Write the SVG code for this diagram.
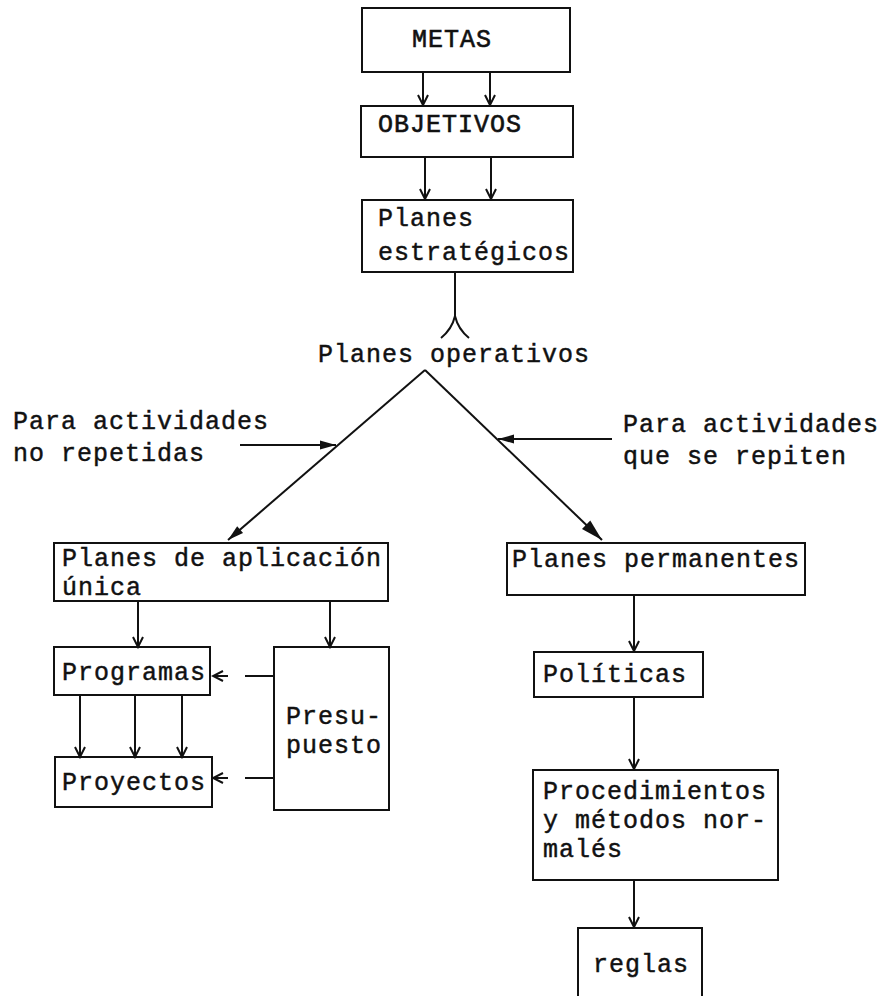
<svg xmlns="http://www.w3.org/2000/svg" width="886" height="996" viewBox="0 0 886 996">
  <style>
    .box { fill: none; stroke: #111; stroke-width: 2; }
    .ln { fill: none; stroke: #111; stroke-width: 2; }
    .t { font-family: "Liberation Mono", "DejaVu Sans Mono", monospace; font-size: 25px; letter-spacing: 1px; fill: #111; stroke: #111; stroke-width: 0.45px; }
    .cap { font-family: "Liberation Mono", "DejaVu Sans Mono", monospace; font-size: 25px; letter-spacing: 1px; fill: #111; stroke: #111; stroke-width: 0.6px; }
  </style>
  <defs>
    <marker id="chev" markerUnits="userSpaceOnUse" viewBox="-12 -7 14 14" refX="0" refY="0" markerWidth="14" markerHeight="14" orient="auto">
      <path d="M-10,-5 L0,0 L-10,5" fill="none" stroke="#111" stroke-width="2"/>
    </marker>
    <marker id="tri" markerUnits="userSpaceOnUse" viewBox="-18 -6 20 12" refX="0" refY="0" markerWidth="20" markerHeight="12" orient="auto">
      <path d="M-16,-4.5 L0,0 L-16,4.5 Z" fill="#111"/>
    </marker>
    <marker id="bigtri" markerUnits="userSpaceOnUse" viewBox="-24 -8 26 16" refX="0" refY="0" markerWidth="26" markerHeight="16" orient="auto">
      <path d="M-22,-6 L0,0 L-22,6 Z" fill="#111"/>
    </marker>
  </defs>
  <rect width="886" height="996" fill="#fff"/>

  <g id="metas">
    <rect class="box" x="362" y="8" width="208" height="64"/>
    <text class="cap" x="412" y="47">METAS</text>
  </g>
  <g id="objetivos">
    <rect class="box" x="361" y="106" width="212" height="51"/>
    <text class="cap" x="378" y="132">OBJETIVOS</text>
  </g>
  <g id="planes-estrategicos">
    <rect class="box" x="362" y="200" width="211" height="72"/>
    <text class="t" x="378" y="226">Planes</text>
    <text class="t" x="378" y="260">estratégicos</text>
  </g>
  <g id="planes-operativos">
    <text class="t" x="318" y="362">Planes operativos</text>
  </g>
  <g id="no-repetidas">
    <text class="t" x="13" y="429">Para actividades</text>
    <text class="t" x="13" y="461">no repetidas</text>
  </g>
  <g id="que-se-repiten">
    <text class="t" x="623" y="432">Para actividades</text>
    <text class="t" x="623" y="464">que se repiten</text>
  </g>
  <g id="aplicacion-unica">
    <rect class="box" x="54" y="543" width="334" height="58"/>
    <text class="t" x="62" y="566">Planes de aplicación</text>
    <text class="t" x="62" y="595">única</text>
  </g>
  <g id="programas">
    <rect class="box" x="54" y="647" width="156" height="48"/>
    <text class="t" x="62" y="680">Programas</text>
  </g>
  <g id="proyectos">
    <rect class="box" x="55" y="757" width="157" height="50"/>
    <text class="t" x="62" y="790">Proyectos</text>
  </g>
  <g id="presupuesto">
    <rect class="box" x="274" y="647" width="115" height="163"/>
    <text class="t" x="286" y="724">Presu-</text>
    <text class="t" x="286" y="753">puesto</text>
  </g>
  <g id="permanentes">
    <rect class="box" x="507" y="543" width="298" height="52"/>
    <text class="t" x="512" y="567">Planes permanentes</text>
  </g>
  <g id="politicas">
    <rect class="box" x="534" y="652" width="169" height="45"/>
    <text class="t" x="543" y="682">Políticas</text>
  </g>
  <g id="procedimientos">
    <rect class="box" x="533" y="770" width="245" height="110"/>
    <text class="t" x="543" y="799">Procedimientos</text>
    <text class="t" x="543" y="828">y métodos nor-</text>
    <text class="t" x="543" y="857">malés</text>
  </g>
  <g id="reglas">
    <path class="ln" d="M578,996 V928 H702 V996"/>
    <text class="t" x="593" y="972">reglas</text>
  </g>

  <g id="connectors">
    <!-- metas to objetivos -->
    <line class="ln" x1="423" y1="72" x2="423" y2="105" marker-end="url(#chev)"/>
    <line class="ln" x1="490" y1="72" x2="490" y2="105" marker-end="url(#chev)"/>
    <!-- objetivos to strategic plans -->
    <line class="ln" x1="425" y1="157" x2="425" y2="199" marker-end="url(#chev)"/>
    <line class="ln" x1="491" y1="157" x2="491" y2="199" marker-end="url(#chev)"/>
    <!-- fork into operational plans -->
    <path class="ln" d="M455,272 V316 M455,316 Q452,329 441,338 M455,316 Q458,329 469,338"/>
    <!-- branches -->
    <line class="ln" x1="425" y1="370" x2="228" y2="540" marker-end="url(#tri)"/>
    <line class="ln" x1="425" y1="370" x2="602" y2="540" stroke-width="2.5" marker-end="url(#bigtri)"/>
    <line class="ln" x1="240" y1="445" x2="336" y2="445" marker-end="url(#tri)"/>
    <line class="ln" x1="612" y1="439" x2="498" y2="439" marker-end="url(#tri)"/>
    <!-- single-use plans -->
    <line class="ln" x1="138" y1="601" x2="138" y2="647" marker-end="url(#chev)"/>
    <line class="ln" x1="330" y1="601" x2="330" y2="647" marker-end="url(#chev)"/>
    <line class="ln" x1="80" y1="695" x2="80" y2="757" marker-end="url(#chev)"/>
    <line class="ln" x1="135" y1="695" x2="135" y2="757" marker-end="url(#chev)"/>
    <line class="ln" x1="182" y1="695" x2="182" y2="757" marker-end="url(#chev)"/>
    <!-- budget feeds programs and projects -->
    <line class="ln" x1="274" y1="676" x2="245" y2="676"/>
    <line class="ln" x1="228" y1="676" x2="213" y2="676" marker-end="url(#chev)"/>
    <line class="ln" x1="274" y1="778" x2="245" y2="778"/>
    <line class="ln" x1="228" y1="778" x2="213" y2="778" marker-end="url(#chev)"/>
    <!-- standing plans chain -->
    <line class="ln" x1="634" y1="595" x2="634" y2="651" marker-end="url(#chev)"/>
    <line class="ln" x1="634" y1="697" x2="634" y2="769" marker-end="url(#chev)"/>
    <line class="ln" x1="634" y1="880" x2="634" y2="927" marker-end="url(#chev)"/>
  </g>
</svg>
